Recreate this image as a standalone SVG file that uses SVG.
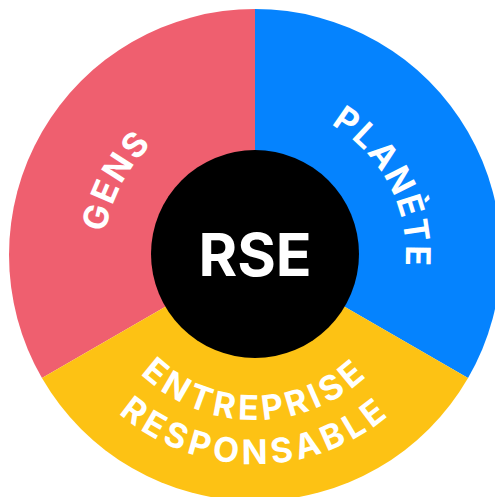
<svg xmlns="http://www.w3.org/2000/svg" width="495" height="497" viewBox="0 0 495 497">
  <style>
    .ring { font-family: Inter, "Liberation Sans", sans-serif; font-weight: 700; font-size: 34px; fill: #ffffff; }
    .core { font-family: Inter, "Liberation Sans", sans-serif; font-weight: 700; font-size: 59px; fill: #ffffff; }
  </style>
  <defs>
    <path id="arcGens" d="M127.0,335.0 A151,151 0 0 1 249.7,104.1"/>
    <path id="arcPlanete" d="M261.6,104.1 A151,151 0 0 1 382.3,336.1"/>
    <path id="arcEntreprise" d="M112.1,337.5 A165,165 0 0 0 397.9,337.5"/>
    <path id="arcResponsable" d="M74.0,359.5 A209,209 0 0 0 436.0,359.5"/>
  </defs>
  <rect width="495" height="497" fill="#ffffff"/>
  <g id="gens">
    <path d="M255,255 L41.96,378 A246,246 0 0 1 255,9 Z" fill="#EF5F6F"/>
    <text class="ring" letter-spacing="2" text-anchor="middle"><textPath href="#arcGens" startOffset="50%">GENS</textPath></text>
  </g>
  <g id="planete">
    <path d="M255,255 L255,9 A246,246 0 0 1 468.04,378 Z" fill="#0583FE"/>
    <text class="ring" letter-spacing="2" text-anchor="middle"><textPath href="#arcPlanete" startOffset="50%">PLANÈTE</textPath></text>
  </g>
  <g id="entreprise">
    <path d="M255,255 L468.04,378 A246,246 0 0 1 41.96,378 Z" fill="#FDC214"/>
    <text class="ring" letter-spacing="4.4" text-anchor="middle"><textPath href="#arcEntreprise" startOffset="50%">ENTREPRISE</textPath></text>
    <text class="ring" letter-spacing="4.4" text-anchor="middle"><textPath href="#arcResponsable" startOffset="50%">RESPONSABLE</textPath></text>
  </g>
  <g id="rse">
    <circle cx="255" cy="254" r="104" fill="#000000"/>
    <text class="core" x="255" y="276" text-anchor="middle">RSE</text>
  </g>
</svg>
